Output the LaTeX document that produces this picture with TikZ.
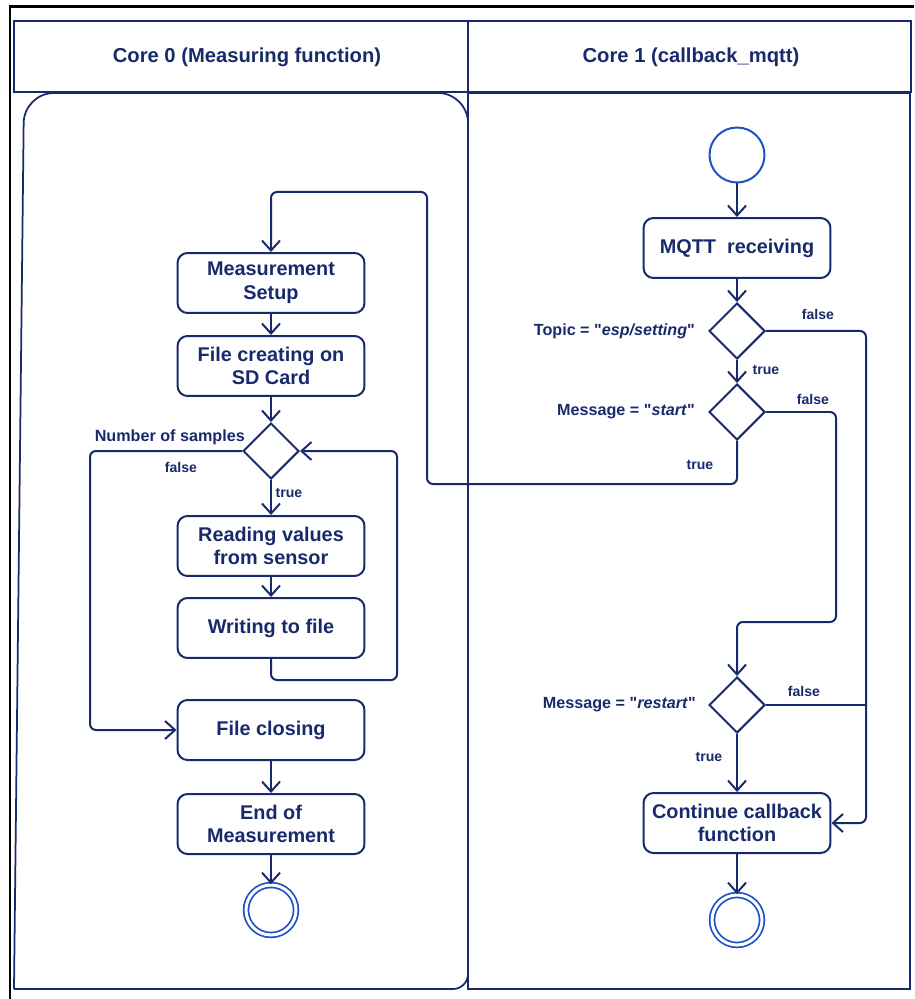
\documentclass[tikz,border=0pt]{standalone}
\usepackage{fontspec}
\setmainfont{Liberation Sans}
\usepackage{xcolor}
\usepackage{tikz}
\usetikzlibrary{arrows.meta,positioning,shapes.geometric,calc}
\definecolor{navy}{RGB}{24,42,108}
\definecolor{ringblue}{RGB}{30,80,200}

\begin{document}
\begin{tikzpicture}[x=0.02cm,y=-0.02cm,
    every node/.style={text=navy,font=\bfseries\fontsize{11.3}{13.5}\selectfont},
    action/.style  ={rectangle,rounded corners=2mm,draw=navy,line width=0.4mm,
                     minimum width=3.74cm,minimum height=1.2cm,
                     inner sep=1pt,align=center},
    decision/.style={diamond,draw=navy,line width=0.4mm,
                     minimum size=1.12cm,inner sep=0pt},
    startdot/.style={circle,draw=ringblue,line width=0.4mm,minimum size=1.1cm},
    enddot/.style  ={circle,draw=ringblue,line width=0.35mm,
                     double=white,double distance=0.6mm,minimum size=1.0cm},
    header/.style  ={font=\bfseries\fontsize{11.5}{13.5}\selectfont},
    cond/.style    ={anchor=east,font=\bfseries\fontsize{9.2}{11}\selectfont},
    guard/.style   ={font=\bfseries\fontsize{8}{9.6}\selectfont},
    lane/.style    ={draw=navy,line width=0.35mm},
    flow/.style    ={draw=navy,line width=0.4mm,rounded corners=1.2mm,
                     -{Straight Barb[length=2mm,width=3.6mm]}},
    link/.style    ={draw=navy,line width=0.4mm,rounded corners=1.2mm},
  ]
  \useasboundingbox (0,0) rectangle (914,999);

  % --- frame and swimlanes ---
  \draw[black,line width=0.6mm] (10,999) -- (10,7) -- (914,7);
  \draw[lane] (14,21) rectangle (911,92);
  \draw[lane] (468,21) -- (468,92);
  \node[header] (h0) at (247,57) {Core 0 (Measuring function)};
  \node[header] (h1) at (691,57) {Core 1 (callback\_mqtt)};
  \draw[lane,rounded corners=6mm] (14,989) -- (24,93) -- (468,93) -- (468,940);
  \draw[lane,rounded corners=3mm] (468,900) -- (468,989) -- (14,989);
  \draw[lane] (468,93) rectangle (910,989);

  % --- core 0 ---
  \node[action]   (setup)  at (271,283) {Measurement\\Setup};
  \node[action]   (create) at (271,366) {File creating on\\SD Card};
  \node[decision] (nsamp)  at (271,451) {};
  \node[action]   (read)   at (271,546) {Reading values\\from sensor};
  \node[action]   (write)  at (271,628) {Writing to file};
  \node[action]   (close)  at (271,730) {File closing};
  \node[action]   (stop)   at (271,824) {End of\\Measurement};
  \node[enddot]   (end0)   at (271,910) {};

  \node[cond]  (lnsamp) at (251,437) {Number of samples};
  \node[guard] (gf0)    at (181,467) {false};
  \node[guard] (gt0)    at (289,493) {true};

  \coordinate (w1) at (397,680);
  \coordinate (f1) at (90,600);

  \draw[flow] (setup)  -- (create);
  \draw[flow] (create) -- (nsamp);
  \draw[flow] (nsamp)  -- (read);
  \draw[flow] (read)   -- (write);
  \draw[flow] (write.south) |- (w1) |- (nsamp.east);
  \draw[flow] (nsamp.west) -| (f1) |- (close.west);
  \draw[flow] (close)  -- (stop);
  \draw[flow] (stop)   -- (end0);

  % --- core 1 ---
  \node[startdot] (init)     at (737,155) {};
  \node[action]   (mqtt)     at (737,248) {MQTT\ \ receiving};
  \node[decision] (dtopic)   at (737,331) {};
  \node[decision] (dstart)   at (737,412) {};
  \node[decision] (drestart) at (737,705) {};
  \node[action]   (cont)     at (737,823) {Continue callback\\function};
  \node[enddot]   (end1)     at (737,920) {};

  \node[cond]  (ltopic)   at (701,331) {Topic = \textquotedbl\textit{esp/setting}\textquotedbl};
  \node[cond]  (lstart)   at (701,412) {Message = \textquotedbl\textit{start}\textquotedbl};
  \node[cond]  (lrestart) at (702,705) {Message = \textquotedbl\textit{restart}\textquotedbl};
  \node[guard] (gf1) at (818,314) {false};
  \node[guard] (gt1) at (766,370) {true};
  \node[guard] (gf2) at (813,399) {false};
  \node[guard] (gt2) at (700,465) {true};
  \node[guard] (gf3) at (804,691) {false};
  \node[guard] (gt3) at (709,757) {true};

  \coordinate (t1) at (866,500);
  \coordinate (s1) at (836,622);
  \coordinate (r1) at (427,484);
  \coordinate (r2) at (427,192);

  \draw[flow] (init)   -- (mqtt);
  \draw[flow] (mqtt)   -- (dtopic);
  \draw[flow] (dtopic) -- (dstart);
  \draw[flow] (dtopic.east) -| (t1) |- (cont.east);
  \draw[flow] (dstart.east) -| (s1) -| (drestart.north);
  \draw[flow] (dstart.south) |- (r1) -- (r2) -| (setup.north);
  \draw[link] (drestart.east) -- (drestart.east -| t1);
  \draw[flow] (drestart) -- (cont);
  \draw[flow] (cont)     -- (end1);
\end{tikzpicture}
\end{document}
